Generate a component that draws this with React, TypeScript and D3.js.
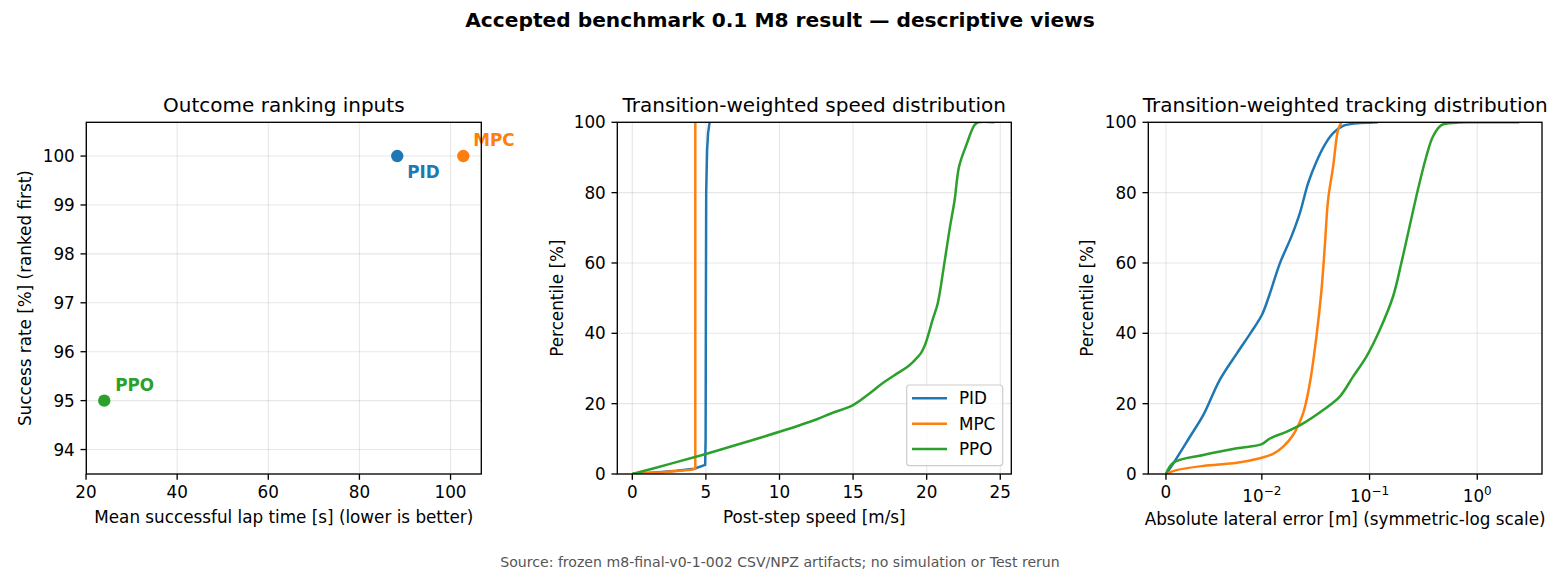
import React from 'react';
import * as d3 from 'd3';

// ---- data ----
const controllers = ['PID', 'MPC', 'PPO'];
const colors = ['#1f77b4', '#ff7f0e', '#2ca02c'];
const lapTime = [88.3, 102.8, 24.0];
const successRate = [100, 100, 95];

const lapTicks = [20, 40, 60, 80, 100];
const rateTicks = [94, 95, 96, 97, 98, 99, 100];
const speedTicks = [0, 5, 10, 15, 20, 25];
const pctTicks = [0, 20, 40, 60, 80, 100];
const errTicks = [0, 0.01, 0.1, 1];
const errTickExp = ['', '−2', '−1', '0'];

// speed [m/s], percentile [%]
const speedPID: [number, number][] = [
  [0, 0], [1, 0.3], [2, 0.6], [3, 0.9], [4.2, 1.5], [4.95, 2.6], [4.98, 10],
  [5.0, 50], [5.02, 80], [5.08, 92], [5.15, 97], [5.25, 100],
];
const speedMPC: [number, number][] = [
  [0, 0], [2, 0.5], [4.0, 1.2], [4.28, 1.5], [4.28, 100],
];
const speedPPO: [number, number][] = [
  [0, 0], [2.5, 2.8], [5, 5.7], [7.5, 8.8], [10, 12], [12.5, 15.5], [13.5, 17.2],
  [15, 19.6], [16, 22.5], [17, 25.8], [18, 28.6], [18.7, 30.5], [19.2, 32.4],
  [19.6, 34.3], [19.85, 36.3], [20.07, 39], [20.4, 43.8], [20.75, 48.5],
  [21.2, 59.9], [21.55, 69.4], [21.9, 77.9], [22.2, 87.4], [22.7, 93.6],
  [23.25, 99.2], [23.5, 100], [24.6, 100],
];

// absolute lateral error [m], percentile [%]
const errPID: [number, number][] = [
  [0, 0], [0.00076, 3], [0.0025, 10.6], [0.0039, 16.8], [0.0056, 26.7],
  [0.0074, 34.3], [0.0088, 40], [0.01, 45.2], [0.0119, 51.4], [0.0147, 59.9],
  [0.0188, 67.5], [0.0225, 74.1], [0.0269, 82.7], [0.0321, 88.8],
  [0.0384, 93.6], [0.0459, 96.9], [0.0568, 99.0], [0.0756, 99.7],
  [0.1, 99.9], [0.12, 100],
];
const errMPC: [number, number][] = [
  [0, 0], [0.0011, 1.1], [0.0039, 2.3], [0.0074, 3.2], [0.0098, 4.5],
  [0.0127, 5.7], [0.0158, 7.8], [0.0195, 11.1], [0.0242, 17.3],
  [0.0279, 25.8], [0.0321, 39], [0.0358, 52.3], [0.0384, 64.6],
  [0.0412, 77.9], [0.0459, 87.4], [0.051, 97.8], [0.0548, 100],
];
const errPPO: [number, number][] = [
  [0, 0], [0.00076, 3.2], [0.0039, 5.4], [0.0074, 7.3], [0.01, 8.5],
  [0.0119, 10.1], [0.0169, 12], [0.0242, 14.4], [0.0371, 18.2],
  [0.0529, 22], [0.0703, 27.7], [0.0935, 33.4], [0.124, 40.9],
  [0.165, 50.4], [0.197, 59.9], [0.235, 70.3], [0.281, 80.8],
  [0.336, 90.2], [0.387, 95.9], [0.464, 99.2], [0.639, 99.9],
  [1.0, 100], [2.45, 100],
];

const speedSeries = [speedPID, speedMPC, speedPPO];
const errSeries = [errPID, errMPC, errPPO];

// ---- layout ----
const W = 1560;
const H = 576;
const TOP = 122.3;
const BOTTOM = 474;
const FONT = 'DejaVu Sans, sans-serif';
const FS = 16.8;
const GRID = { stroke: '#b0b0b0', strokeOpacity: 0.3, strokeWidth: 1.1 };

// matplotlib-style symlog: linthresh 0.01, linear part ~0.89 decade
const LT = 0.01;
const LS = 0.89;
const symlog = (v: number) =>
  Math.abs(v) <= LT ? (v / LT) * LS : Math.sign(v) * (LS + Math.log10(Math.abs(v) / LT));

const yPct = d3.scaleLinear().domain([0, 100]).range([BOTTOM, TOP]);
const smooth = d3.curveCatmullRom.alpha(0.5);

const Frame = ({ left, right }: { left: number; right: number }) => (
  <rect x={left} y={TOP} width={right - left} height={BOTTOM - TOP}
    fill="none" stroke="#000" strokeWidth={1.33} />
);

const YAxis = ({ scale, ticks, left, right }: any) => (
  <g>
    {ticks.map((t: number) => (
      <g key={t}>
        <line x1={left} x2={right} y1={scale(t)} y2={scale(t)} {...GRID} />
        <line x1={left - 5.8} x2={left} y1={scale(t)} y2={scale(t)} stroke="#000" strokeWidth={1.33} />
        <text x={left - 11.5} y={scale(t)} dy="0.36em" textAnchor="end" fontSize={FS}>{t}</text>
      </g>
    ))}
  </g>
);

const XAxis = ({ ticks, pos, labels }: any) => (
  <g>
    {ticks.map((t: number, i: number) => (
      <g key={t}>
        <line x1={pos(t)} x2={pos(t)} y1={TOP} y2={BOTTOM} {...GRID} />
        <line x1={pos(t)} x2={pos(t)} y1={BOTTOM} y2={BOTTOM + 5.8} stroke="#000" strokeWidth={1.33} />
        {labels ? labels(t, i) : (
          <text x={pos(t)} y={498} textAnchor="middle" fontSize={FS}>{t}</text>
        )}
      </g>
    ))}
  </g>
);

function ScatterPanel() {
  const left = 86.3, right = 481.3;
  const x = d3.scaleLinear().domain([20.06, 106.75]).range([left, right]);
  const y = d3.scaleLinear().domain([93.5, 100.69]).range([BOTTOM, TOP]);
  const offsets = [[10, 16], [10, -16], [11, -16]];
  return (
    <g>
      <YAxis scale={y} ticks={rateTicks} left={left} right={right} />
      <XAxis ticks={lapTicks} pos={x} />
      {controllers.map((c, i) => (
        <g key={c}>
          <circle cx={x(lapTime[i])} cy={y(successRate[i])} r={6.2} fill={colors[i]} />
          <text x={x(lapTime[i]) + offsets[i][0]} y={y(successRate[i]) + offsets[i][1]} dy="0.36em"
            fontSize={FS} fontWeight="bold" fill={colors[i]}>{c}</text>
        </g>
      ))}
      <Frame left={left} right={right} />
      <text x={(left + right) / 2} y={112} textAnchor="middle" fontSize={20}>Outcome ranking inputs</text>
      <text x={(left + right) / 2} y={523} textAnchor="middle" fontSize={FS}>Mean successful lap time [s] (lower is better)</text>
      <text transform={`translate(25,${(TOP + BOTTOM) / 2}) rotate(-90)`} dy="0.36em" textAnchor="middle" fontSize={FS}>
        Success rate [%] (ranked first)
      </text>
    </g>
  );
}

function SpeedPanel() {
  const left = 617.3, right = 1011.3;
  const x = d3.scaleLinear().domain([-1.02, 25.75]).range([left, right]);
  const line = d3.line<[number, number]>().x(d => x(d[0])).y(d => yPct(d[1]));
  const lg = { x: 906.7, y: 385, w: 96, h: 80.7 };
  return (
    <g>
      <YAxis scale={yPct} ticks={pctTicks} left={left} right={right} />
      <XAxis ticks={speedTicks} pos={x} />
      <clipPath id="clip2"><rect x={left} y={TOP} width={right - left} height={BOTTOM - TOP} /></clipPath>
      <g clipPath="url(#clip2)">
        {speedSeries.map((s, i) => (
          <path key={i} d={line.curve(i === 2 ? smooth : d3.curveLinear)(s) || ''} fill="none"
            stroke={colors[i]} strokeWidth={2.5} strokeLinejoin="round" />
        ))}
      </g>
      <Frame left={left} right={right} />
      <rect x={lg.x} y={lg.y} width={lg.w} height={lg.h} rx={3} fill="#fff" fillOpacity={0.8} stroke="#cccccc" strokeWidth={1.2} />
      {controllers.map((c, i) => (
        <g key={c}>
          <line x1={912} x2={947} y1={398.3 + i * 25.4} y2={398.3 + i * 25.4} stroke={colors[i]} strokeWidth={2.5} />
          <text x={959} y={398.3 + i * 25.4} dy="0.36em" fontSize={FS}>{c}</text>
        </g>
      ))}
      <text x={(left + right) / 2} y={112} textAnchor="middle" fontSize={20}>Transition-weighted speed distribution</text>
      <text x={(left + right) / 2} y={523} textAnchor="middle" fontSize={FS}>Post-step speed [m/s]</text>
      <text transform={`translate(557,${(TOP + BOTTOM) / 2}) rotate(-90)`} dy="0.36em" textAnchor="middle" fontSize={FS}>
        Percentile [%]
      </text>
    </g>
  );
}

function ErrorPanel() {
  const left = 1148.3, right = 1542;
  const xt = d3.scaleLinear().domain([-0.164, 3.491]).range([left, right]);
  const pos = (v: number) => xt(symlog(v));
  const line = d3.line<[number, number]>().x(d => pos(d[0])).y(d => yPct(d[1])).curve(smooth);
  const labels = (t: number, i: number) =>
    t === 0 ? (
      <text x={pos(t)} y={498} textAnchor="middle" fontSize={FS}>0</text>
    ) : (
      <text x={pos(t)} y={502} textAnchor="middle" fontSize={FS}>
        10<tspan dy={-7.5} fontSize={12}>{errTickExp[i]}</tspan>
      </text>
    );
  return (
    <g>
      <YAxis scale={yPct} ticks={pctTicks} left={left} right={right} />
      <XAxis ticks={errTicks} pos={pos} labels={labels} />
      <clipPath id="clip3"><rect x={left} y={TOP} width={right - left} height={BOTTOM - TOP} /></clipPath>
      <g clipPath="url(#clip3)">
        {errSeries.map((s, i) => (
          <path key={i} d={line(s) || ''} fill="none" stroke={colors[i]} strokeWidth={2.5} strokeLinejoin="round" />
        ))}
      </g>
      <Frame left={left} right={right} />
      <text x={(left + right) / 2} y={112} textAnchor="middle" fontSize={20}>Transition-weighted tracking distribution</text>
      <text x={(left + right) / 2} y={525} textAnchor="middle" fontSize={FS}>Absolute lateral error [m] (symmetric-log scale)</text>
      <text transform={`translate(1087,${(TOP + BOTTOM) / 2}) rotate(-90)`} dy="0.36em" textAnchor="middle" fontSize={FS}>
        Percentile [%]
      </text>
    </g>
  );
}

export default function App() {
  return (
    <div style={{ position: 'fixed', left: 0, top: 0 }}>
      <svg width={W} height={H} fontFamily={FONT} style={{ display: 'block', background: '#fff' }}>
        <rect width={W} height={H} fill="#fff" />
        <text x={780} y={27} textAnchor="middle" fontSize={20.2} fontWeight="bold">
          Accepted benchmark 0.1 M8 result — descriptive views
        </text>
        <ScatterPanel />
        <SpeedPanel />
        <ErrorPanel />
        <text x={780} y={567} textAnchor="middle" fontSize={14.1} fill="#555">
          Source: frozen m8-final-v0-1-002 CSV/NPZ artifacts; no simulation or Test rerun
        </text>
      </svg>
    </div>
  );
}
